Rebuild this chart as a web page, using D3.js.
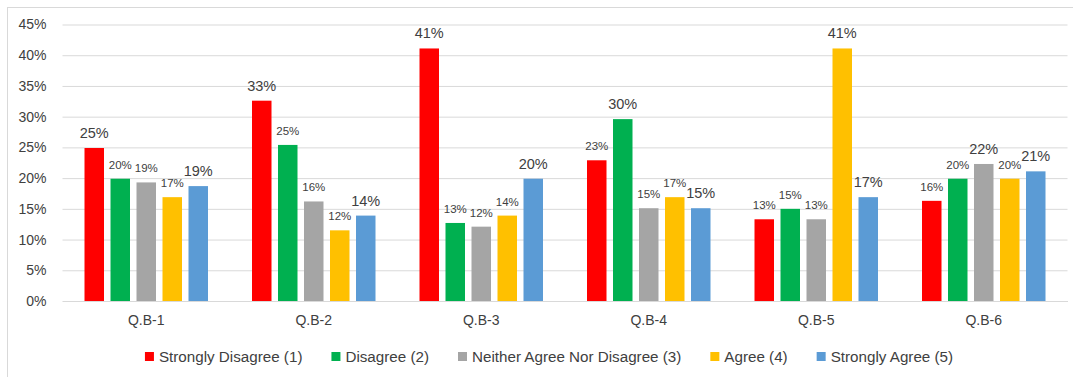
<!DOCTYPE html>
<html>
<head>
<meta charset="utf-8">
<script src="https://cdn.jsdelivr.net/npm/d3@7"></script>
<style>
  body { margin: 0; background: #fff; }
  text { font-family: "Liberation Sans", Arial, sans-serif; fill: #404040; }
</style>
</head>
<body>
<svg id="chart" width="1073" height="377"></svg>
<script>
const questions = ["Q.B-1", "Q.B-2", "Q.B-3", "Q.B-4", "Q.B-5", "Q.B-6"];
const seriesNames = ["Strongly Disagree (1)", "Disagree (2)", "Neither Agree Nor Disagree (3)", "Agree (4)", "Strongly Agree (5)"];
const seriesColors = ["#ff0000", "#00b050", "#a5a5a5", "#ffc000", "#5b9bd5"];
// percent per question, one array per answer
const stronglyDisagree = [24.9, 32.6, 41.1, 22.9, 13.3, 16.3];
const disagree = [19.9, 25.4, 12.7, 29.6, 15.0, 19.9];
const neither = [19.3, 16.2, 12.1, 15.1, 13.3, 22.3];
const agree = [16.9, 11.5, 13.9, 16.9, 41.1, 19.9];
const stronglyAgree = [18.7, 13.9, 19.9, 15.1, 16.9, 21.1];
const yTicks = [0, 5, 10, 15, 20, 25, 30, 35, 40, 45];

const allSeries = [stronglyDisagree, disagree, neither, agree, stronglyAgree];

const margin = {top: 24.5, left: 62.5, right: 5.5, bottom: 76};
const W = 1073, H = 377;
const width = W - margin.left - margin.right;
const height = H - margin.top - margin.bottom;

const svg = d3.select("#chart");

// outer chart border (right/bottom run off the picture)
svg.append("rect")
    .attr("x", 7.5).attr("y", 7.5)
    .attr("width", 1080).attr("height", 390)
    .attr("fill", "none").attr("stroke", "#d9d9d9");

const g = svg.append("g").attr("transform", "translate(" + margin.left + "," + margin.top + ")");

const y = d3.scaleLinear().domain([0, 45]).range([height, 0]);
const x0 = d3.scaleBand().domain(questions).range([0, width]);
const x1 = d3.scaleBand().domain(d3.range(seriesNames.length))
    .range([22, x0.bandwidth() - 22]).paddingInner(0.25);

const yAxis = g.append("g")
    .call(d3.axisLeft(y).tickValues(yTicks).tickSize(-width).tickPadding(16)
        .tickFormat(d => d + "%"));
yAxis.select(".domain").remove();
yAxis.selectAll(".tick line").attr("stroke", "#d9d9d9");
yAxis.selectAll(".tick text").attr("font-size", 14).attr("fill", "#404040")
    .style("font-family", "'Liberation Sans', Arial, sans-serif");

const xAxis = g.append("g")
    .attr("transform", "translate(0," + height + ")")
    .call(d3.axisBottom(x0).tickSize(0).tickPadding(14));
xAxis.select(".domain").attr("stroke", "#d9d9d9");
xAxis.selectAll(".tick text").attr("font-size", 14).attr("fill", "#404040")
    .style("font-family", "'Liberation Sans', Arial, sans-serif");

const fmt = d => Math.round(d) + "%";

questions.forEach((q, qi) => {
    const vals = allSeries.map(s => s[qi]);
    const maxV = d3.max(vals);
    const grp = g.append("g").attr("transform", "translate(" + x0(q) + ",0)");
    grp.selectAll("rect")
        .data(vals)
        .enter().append("rect")
        .attr("x", (d, i) => x1(i))
        .attr("y", d => y(d))
        .attr("width", x1.bandwidth())
        .attr("height", d => height - y(d))
        .attr("fill", (d, i) => seriesColors[i]);
    grp.selectAll("text")
        .data(vals)
        .enter().append("text")
        .attr("x", (d, i) => x1(i) + x1.bandwidth() / 2)
        .attr("y", d => y(d) - 10)
        .attr("text-anchor", "middle")
        .attr("font-size", (d, i) => (d === maxV || i === vals.length - 1) ? 14.5 : 11.5)
        .text(fmt);
});

// legend
const legend = svg.append("g");
const items = legend.selectAll("g").data(seriesNames).enter().append("g");
items.append("rect")
    .attr("width", 9).attr("height", 9).attr("y", 352)
    .attr("fill", (d, i) => seriesColors[i]);
items.append("text")
    .attr("x", 14).attr("y", 361.5)
    .attr("font-size", 15.2)
    .text(d => d);
let cx = 0;
const offs = [];
items.each(function () {
    offs.push(cx);
    cx += 14 + this.querySelector("text").getComputedTextLength() + 29;
});
const total = cx - 29;
const startX = 549 - total / 2;
items.attr("transform", (d, i) => "translate(" + (startX + offs[i]) + ",0)");
</script>
</body>
</html>
